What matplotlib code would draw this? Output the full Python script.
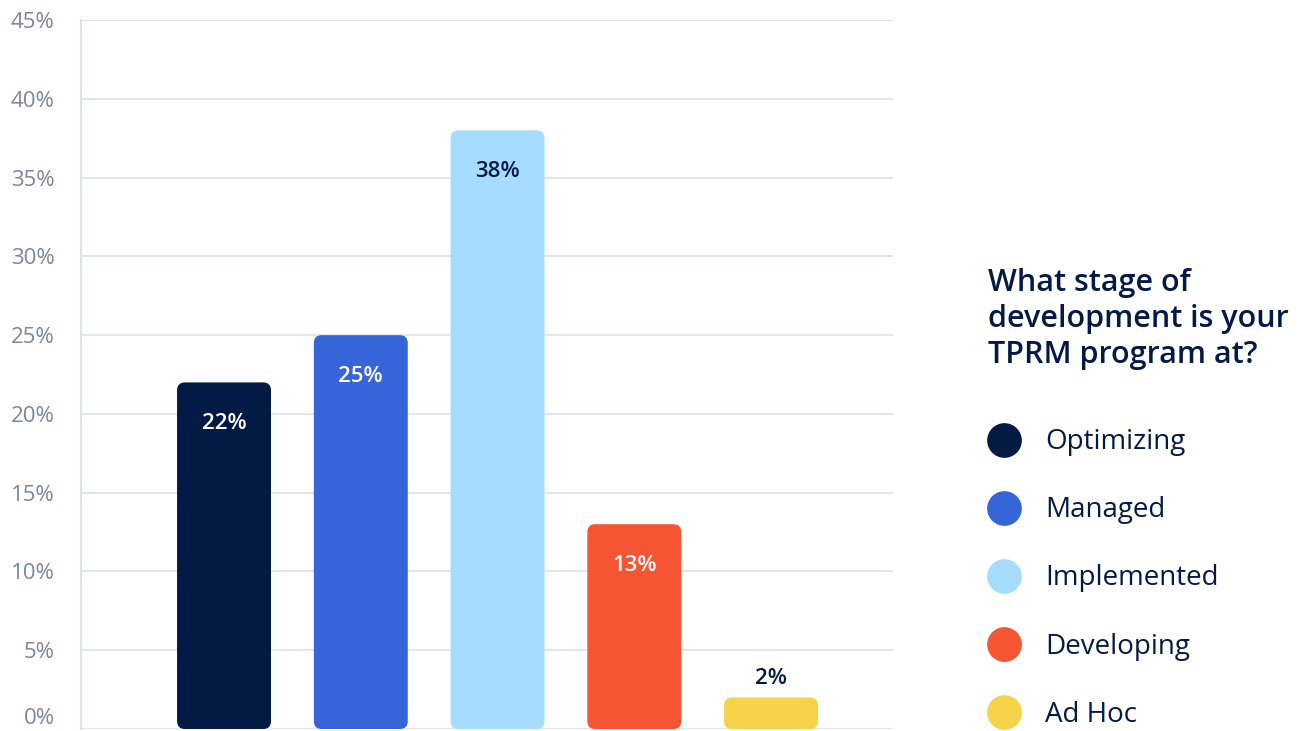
import matplotlib.pyplot as plt
from matplotlib.patches import FancyBboxPatch
from matplotlib.lines import Line2D

plt.rcParams['font.family'] = ['Open Sans', 'DejaVu Sans']

# survey results
stages = ['Optimizing', 'Managed', 'Implemented', 'Developing', 'Ad Hoc']
shares = [22, 25, 38, 13, 2]
colors = ['#031B44', '#3665D9', '#A6DCFF', '#F55532', '#F5D247']
label_colors = ['white', 'white', '#031B44', 'white', '#031B44']
yticks = [0, 5, 10, 15, 20, 25, 30, 35, 40, 45]
question = 'What stage of\ndevelopment is your\nTPRM program at?'

navy = '#031B44'
grey = '#7B859B'
grid = '#DDE0E8'

fig = plt.figure(figsize=(12.98, 7.31), dpi=100)
ax = fig.add_axes([0.0624, 0.0027, 0.6256, 0.9699])

bars = ax.bar(range(len(stages)), shares, width=0.687, color=colors)

# swap the plain rectangles for rounded ones
for b in bars:
    b.set_visible(False)
    p = FancyBboxPatch((b.get_x(), b.get_y()), b.get_width(), b.get_height(),
                       boxstyle='round,pad=0,rounding_size=0.058',
                       mutation_aspect=8.7, facecolor=b.get_facecolor(),
                       edgecolor='none', zorder=3)
    ax.add_patch(p)

for i, v in enumerate(shares):
    dy = 14 if v < 5 else -29.5
    ax.annotate(f'{v}%', (i, v), xytext=(0, dy), textcoords='offset points',
                ha='center', va='center', fontsize=16, color=label_colors[i],
                fontweight='semibold', zorder=4)

ax.set_xlim(-1.046, 4.892)
ax.set_ylim(0, 45)
ax.set_yticks(yticks)
ax.set_yticklabels([f'{t}%' for t in yticks])
ax.set_xticks([])
ax.tick_params(axis='y', length=0, pad=19, labelsize=16, labelcolor=grey)
# keep the 0% label inside the figure
ax.yaxis.get_major_ticks()[0].label1.set_va('bottom')
ax.grid(axis='y', color=grid, linewidth=1.2, zorder=0)
ax.set_axisbelow(True)
for s in ['top', 'right', 'bottom']:
    ax.spines[s].set_visible(False)
ax.spines['left'].set_color(grid)
ax.spines['left'].set_linewidth(1.5)

fig.text(988 / 1298, 1 - 319 / 731, question, ha='left', va='center',
         fontsize=22, fontweight='semibold', color=navy, linespacing=1.28)

handles = [Line2D([], [], marker='o', linestyle='none', markersize=25,
                  markerfacecolor=c, markeredgecolor='none') for c in colors]
leg = fig.legend(handles, stages, loc='center left',
                 bbox_to_anchor=(986 / 1298, 1 - 578.5 / 731),
                 frameon=False, fontsize=20, labelspacing=1.445,
                 handlelength=1.3, handletextpad=0.82, borderpad=0,
                 borderaxespad=0)
for t in leg.get_texts():
    t.set_color(navy)

fig.savefig('out.png', dpi=100)
